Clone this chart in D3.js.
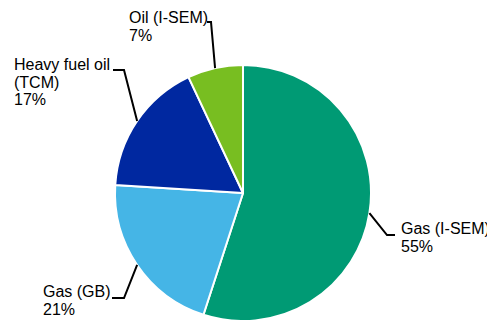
<!DOCTYPE html>
<html>
<head>
<meta charset="utf-8">
<script src="https://cdn.jsdelivr.net/npm/d3@7"></script>
<style>
  body { margin: 0; background: #fff; }
  text { font-family: "Liberation Sans", Arial, sans-serif; font-size: 16px; fill: #000; }
</style>
</head>
<body>
<div id="chart"></div>
<script>
// data
var categories = ["Gas (I-SEM)", "Gas (GB)", "Heavy fuel oil (TCM)", "Oil (I-SEM)"];
var shares = [55, 21, 17, 7];
var labelLines = [["Gas (I-SEM)", "55%"], ["Gas (GB)", "21%"], ["Heavy fuel oil", "(TCM)", "17%"], ["Oil (I-SEM)", "7%"]];
var colours = ["#009a74", "#45b5e6", "#0028a0", "#78be21"];

// svg size and pie geometry
var svgWidth = 487;
var svgHeight = 320;
var cx = 243;
var cy = 193;
var radius = 128;

// label layout: elbow point, end of leader, and text block anchor
var layout = [
    { elbow: [387, 235], end: [395, 235], x: 401, y: 234 },
    { elbow: [124, 298], end: [112, 298], x: 43, y: 297 },
    { elbow: [124, 70], end: [113, 70], x: 14, y: 70 },
    { elbow: [211, 22], end: [207, 22], x: 129, y: 23 }
];
var lineStep = 17.5;

var svg = d3.select("#chart")
    .append("svg")
    .attr("width", svgWidth)
    .attr("height", svgHeight);

var data = categories.map(function(c, i) {
    return { name: c, value: shares[i], lines: labelLines[i], colour: colours[i], lay: layout[i] };
});

var pie = d3.pie()
    .sort(null)
    .value(d => d.value);

var arc = d3.arc()
    .innerRadius(0)
    .outerRadius(radius);

var pieGroup = svg.append("g")
    .attr("transform", `translate(${cx},${cy})`);

var arcs = pie(data);

pieGroup.selectAll("path")
    .data(arcs)
    .enter()
    .append("path")
    .attr("d", arc)
    .attr("fill", d => d.data.colour)
    .attr("stroke", "#fff")
    .attr("stroke-width", 2)
    .attr("stroke-linejoin", "round");

// leader lines start on the rim at each slice's middle angle
var leaders = svg.append("g");
arcs.forEach(function(a) {
    var mid = (a.startAngle + a.endAngle) / 2;
    var sx = cx + radius * Math.sin(mid);
    var sy = cy - radius * Math.cos(mid);
    var l = a.data.lay;
    leaders.append("polyline")
        .attr("points", [[sx, sy], l.elbow, l.end].map(p => p.join(",")).join(" "))
        .attr("fill", "none")
        .attr("stroke", "#000")
        .attr("stroke-width", 2);

    var t = svg.append("text")
        .attr("x", l.x)
        .attr("y", l.y);
    a.data.lines.forEach(function(s, j) {
        t.append("tspan")
            .attr("x", l.x)
            .attr("y", l.y + j * lineStep)
            .text(s);
    });
});
</script>
</body>
</html>
